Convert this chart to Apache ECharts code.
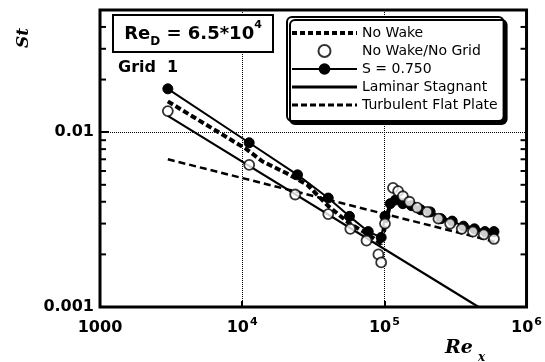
<!DOCTYPE html>
<html>
<head>
<meta charset="utf-8">
<script src="https://cdn.jsdelivr.net/npm/echarts@6/dist/echarts.min.js"></script>
<style>
  html, body { margin: 0; padding: 0; background: #fff; }
  #chart { width: 545px; height: 362px; }
</style>
</head>
<body>
<div id="chart"></div>
<script>
// S = 0.750 (filled circles, solid line)
const sRe = [3000, 11200, 24500, 40300, 56800, 77000, 95000, 101000, 110000, 120000, 135000, 155000, 180000, 210000, 250000, 300000, 360000, 430000, 510000, 590000]
const sSt = [0.0177, 0.0087, 0.0057, 0.0042, 0.0033, 0.0027, 0.0025, 0.0033, 0.0039, 0.0041, 0.0039, 0.0038, 0.0036, 0.0035, 0.0032, 0.0031, 0.0029, 0.0028, 0.0027, 0.0027]

// No Wake/No Grid (open circles)
const openRe = [3000, 11200, 23600, 40300, 57600, 74900, 90800, 95000, 101000, 115000, 125000, 135000, 150000, 170000, 200000, 240000, 290000, 350000, 420000, 500000, 590000]
const openSt = [0.0132, 0.0065, 0.0044, 0.0034, 0.0028, 0.0024, 0.0020, 0.0018, 0.0030, 0.0048, 0.0046, 0.0043, 0.0040, 0.0037, 0.0035, 0.0032, 0.0030, 0.0028, 0.0027, 0.0026, 0.00245]

// No Wake (thick dashed)
const noWakeRe = [3000, 10700, 13900, 20700, 28700, 40000, 57000, 77000, 95000, 105000, 112000, 130000, 160000, 200000, 260000, 330000, 420000, 520000, 600000]
const noWakeSt = [0.0150, 0.0080, 0.0068, 0.0058, 0.0050, 0.0038, 0.0030, 0.0026, 0.0023, 0.0033, 0.0042, 0.0041, 0.0038, 0.0035, 0.0032, 0.0030, 0.0028, 0.0027, 0.0026]

// correlations
const lamRe = [3000, 460000]
const lamSt = [0.0124, 0.001]
const turbRe = [3000, 600000]
const turbSt = [0.0070, 0.00236]

// minor ticks on the St axis
const yMinorTicks = [0.002, 0.003, 0.004, 0.005, 0.006, 0.007, 0.008, 0.009, 0.02, 0.03, 0.04]

const pairs = (xs, ys) => xs.map((x, i) => [x, ys[i]])

const tickFont = 'DejaVu Sans'
const isPow10 = (v) => Math.abs(Math.log10(v) - Math.round(Math.log10(v))) < 1e-6

// line-only entries: hide the dot that the legend puts on line icons
const noDot = { color: 'transparent', borderColor: 'transparent', borderWidth: 0 }
const legendItems = [
  { name: 'No Wake', itemStyle: noDot, lineStyle: { width: 4, type: [5, 3] } },
  { name: 'No Wake/No Grid' },
  { name: 'S = 0.750', lineStyle: { width: 2 } },
  { name: 'Laminar Stagnant', itemStyle: noDot, lineStyle: { width: 3 } },
  { name: 'Turbulent Flat Plate', itemStyle: noDot, lineStyle: { width: 3, type: [6, 3] } }
]

const chart = echarts.init(document.getElementById('chart'))

// little inward tick marks drawn through the axis scale
const minorTick = (side) => (params, api) => {
  const p = api.coord([api.value(0), api.value(1)])
  const len = side === 'left' ? 6 : -6
  return {
    type: 'line',
    shape: { x1: p[0], y1: p[1], x2: p[0] + len, y2: p[1] },
    style: { stroke: '#000', lineWidth: 2 }
  }
}

const option = {
  animation: false,
  backgroundColor: '#fff',
  grid: {
    left: 100,
    right: 17,
    top: 10,
    bottom: 55,
    show: true,
    borderColor: '#000',
    borderWidth: 3,
    backgroundColor: 'transparent'
  },
  legend: {
    data: legendItems,
    orient: 'vertical',
    left: 287,
    top: 17,
    itemWidth: 65,
    itemHeight: 12,
    itemGap: 4,
    padding: [9, 6, 9, 3],
    backgroundColor: '#fff',
    borderColor: '#000',
    borderWidth: 2,
    borderRadius: 5,
    shadowColor: '#000',
    shadowOffsetX: 3,
    shadowOffsetY: 3,
    shadowBlur: 0,
    textStyle: { fontFamily: 'DejaVu Sans', fontSize: 14, lineHeight: 14, color: '#000' }
  },
  xAxis: {
    type: 'log',
    logBase: 10,
    min: 1000,
    max: 1000000,
    axisLine: { show: false },
    axisTick: { show: true, inside: true, length: 6, lineStyle: { color: '#000', width: 2 } },
    splitLine: { show: true, lineStyle: { color: '#000', type: 'dotted', width: 1 } },
    axisLabel: {
      margin: 10,
      color: '#000',
      fontFamily: tickFont,
      fontWeight: 'bold',
      fontSize: 16,
      lineHeight: 22,
      formatter: (v) => {
        if (!isPow10(v)) return ''
        const e = Math.round(Math.log10(v))
        if (e === 3) return '1000'
        return '10{s|' + e + '}'
      },
      rich: {
        s: { fontFamily: tickFont, fontWeight: 'bold', fontSize: 11, verticalAlign: 'top', lineHeight: 22, padding: [0, 0, 10, 1] }
      }
    }
  },
  yAxis: {
    type: 'log',
    logBase: 10,
    min: 0.001,
    max: 0.05,
    axisLine: { show: false },
    axisTick: { show: true, inside: true, length: 9, lineStyle: { color: '#000', width: 2 } },
    splitLine: { show: true, lineStyle: { color: '#000', type: 'dotted', width: 1 } },
    axisLabel: {
      margin: 6,
      color: '#000',
      fontFamily: tickFont,
      fontWeight: 'bold',
      fontSize: 16,
      formatter: (v) => {
        if (!isPow10(v)) return ''
        const e = Math.round(Math.log10(v))
        return e === -3 ? '0.001' : (e === -2 ? '0.01' : '')
      }
    }
  },
  graphic: [
    {
      type: 'rect',
      shape: { x: 113, y: 15, width: 160, height: 37 },
      style: { fill: '#fff', stroke: '#000', lineWidth: 2 },
      z: 10
    },
    {
      type: 'text',
      x: 193,
      y: 34,
      z: 11,
      style: {
        text: '{a|Re}{b|D}{a| = 6.5*10}{c|4}',
        align: 'center',
        verticalAlign: 'middle',
        rich: {
          a: { fontFamily: 'DejaVu Sans', fontWeight: 'bold', fontSize: 18, lineHeight: 28, verticalAlign: 'middle' },
          b: { fontFamily: 'DejaVu Sans', fontWeight: 'bold', fontSize: 12, lineHeight: 28, verticalAlign: 'bottom' },
          c: { fontFamily: 'DejaVu Sans', fontWeight: 'bold', fontSize: 11, lineHeight: 28, verticalAlign: 'top' }
        }
      }
    },
    {
      type: 'text',
      x: 118,
      y: 68,
      z: 11,
      style: { text: 'Grid  1', fontFamily: 'DejaVu Sans', fontWeight: 'bold', fontSize: 16, fill: '#000', verticalAlign: 'middle' }
    },
    {
      type: 'text',
      x: 24,
      y: 38,
      rotation: Math.PI / 2,
      style: { text: 'St', fontFamily: 'DejaVu Serif', fontStyle: 'italic', fontWeight: 'bold', fontSize: 17, fill: '#000', align: 'center', verticalAlign: 'middle' }
    },
    {
      type: 'text',
      x: 445,
      y: 348,
      style: { text: 'Re', fontFamily: 'DejaVu Serif', fontStyle: 'italic', fontWeight: 'bold', fontSize: 19, fill: '#000', verticalAlign: 'middle' }
    },
    {
      type: 'text',
      x: 478,
      y: 358,
      style: { text: 'x', fontFamily: 'DejaVu Serif', fontStyle: 'italic', fontWeight: 'bold', fontSize: 12, fill: '#000', verticalAlign: 'middle' }
    }
  ],
  series: [
    {
      name: 'No Wake',
      type: 'line',
      data: pairs(noWakeRe, noWakeSt),
      symbol: 'none',
      lineStyle: { color: '#000', width: 4, type: [6, 3] },
      itemStyle: { color: '#000' },
      z: 3
    },
    {
      name: 'No Wake/No Grid',
      type: 'scatter',
      data: pairs(openRe, openSt),
      symbol: 'circle',
      symbolSize: 10,
      itemStyle: { color: '#fff', borderColor: '#000', borderWidth: 1.8 },
      z: 6
    },
    {
      name: 'S = 0.750',
      type: 'line',
      data: pairs(sRe, sSt),
      symbol: 'circle',
      symbolSize: 10,
      showAllSymbol: true,
      lineStyle: { color: '#000', width: 2 },
      itemStyle: { color: '#000', borderColor: '#000', borderWidth: 1 },
      z: 5
    },
    {
      name: 'Laminar Stagnant',
      type: 'line',
      data: pairs(lamRe, lamSt),
      symbol: 'none',
      lineStyle: { color: '#000', width: 2.2 },
      itemStyle: { color: '#000' },
      z: 4
    },
    {
      name: 'Turbulent Flat Plate',
      type: 'line',
      data: pairs(turbRe, turbSt),
      symbol: 'none',
      lineStyle: { color: '#000', width: 2.5, type: [7, 4] },
      itemStyle: { color: '#000' },
      z: 4
    },
    {
      type: 'custom',
      silent: true,
      renderItem: minorTick('left'),
      data: yMinorTicks.map((v) => [1000, v]),
      z: 7
    },
    {
      type: 'custom',
      silent: true,
      renderItem: minorTick('right'),
      data: yMinorTicks.map((v) => [1000000, v]),
      z: 7
    }
  ]
}

chart.setOption(option)
</script>
</body>
</html>
